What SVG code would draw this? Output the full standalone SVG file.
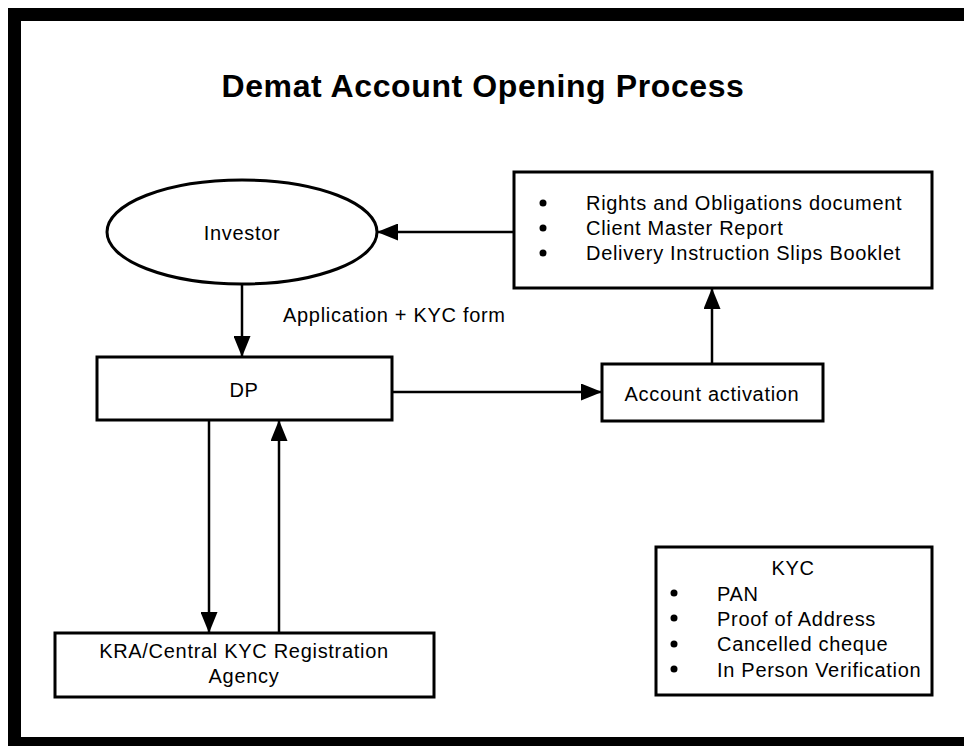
<svg xmlns="http://www.w3.org/2000/svg" width="964" height="746" viewBox="0 0 964 746">
  <style>
    .box { fill: #fff; stroke: #000; stroke-width: 3; }
    .txt { font-family: "Liberation Sans", Arial, sans-serif; font-size: 20px; letter-spacing: 0.7px; fill: #000; }
    .mid { text-anchor: middle; }
    .title { font-family: "Liberation Sans", Arial, sans-serif; font-size: 32px; font-weight: bold; letter-spacing: 0.6px; fill: #000; text-anchor: middle; }
    .edge { fill: none; stroke: #000; stroke-width: 2.5; marker-end: url(#arrow); }
    .dot { fill: #000; }
  </style>
  <defs>
    <marker id="arrow" markerUnits="userSpaceOnUse" markerWidth="21" markerHeight="17" refX="21" refY="8.5" orient="auto">
      <path d="M0,0 L21,8.5 L0,17 z" fill="#000"/>
    </marker>
  </defs>

  <!-- page background and heavy frame -->
  <rect x="0" y="0" width="964" height="746" fill="#fff"/>
  <rect x="14.5" y="14.5" width="980" height="729" fill="none" stroke="#000" stroke-width="13"/>

  <text class="title" x="483" y="97">Demat Account Opening Process</text>

  <!-- connectors -->
  <g id="connectors">
    <line class="edge" x1="514" y1="232" x2="377" y2="232"/>
    <line class="edge" x1="242" y1="284" x2="242" y2="357"/>
    <line class="edge" x1="392" y1="392" x2="602" y2="392"/>
    <line class="edge" x1="712" y1="364" x2="712" y2="288"/>
    <line class="edge" x1="209" y1="420" x2="209" y2="633"/>
    <line class="edge" x1="279" y1="633" x2="279" y2="420"/>
    <text class="txt" x="283" y="322">Application + KYC form</text>
  </g>

  <g id="investor">
    <ellipse class="box" cx="242" cy="232" rx="135" ry="52"/>
    <text class="txt mid" x="242" y="240">Investor</text>
  </g>

  <g id="documents">
    <rect class="box" x="514" y="172" width="418" height="116"/>
    <circle class="dot" cx="543" cy="203" r="3.5"/>
    <circle class="dot" cx="543" cy="228" r="3.5"/>
    <circle class="dot" cx="543" cy="253" r="3.5"/>
    <text class="txt" x="586" y="210">Rights and Obligations document</text>
    <text class="txt" x="586" y="235">Client Master Report</text>
    <text class="txt" x="586" y="260">Delivery Instruction Slips Booklet</text>
  </g>

  <g id="dp">
    <rect class="box" x="97" y="357" width="295" height="63"/>
    <text class="txt mid" x="244" y="397">DP</text>
  </g>

  <g id="activation">
    <rect class="box" x="602" y="364" width="221" height="57"/>
    <text class="txt mid" x="712" y="401">Account activation</text>
  </g>

  <g id="kra">
    <rect class="box" x="55" y="633" width="379" height="64"/>
    <text class="txt mid" x="244" y="658">KRA/Central KYC Registration</text>
    <text class="txt mid" x="244" y="683">Agency</text>
  </g>

  <g id="kyc">
    <rect class="box" x="656" y="547" width="276" height="148"/>
    <text class="txt mid" x="793" y="575">KYC</text>
    <circle class="dot" cx="674" cy="593" r="3.5"/>
    <circle class="dot" cx="674" cy="618" r="3.5"/>
    <circle class="dot" cx="674" cy="644" r="3.5"/>
    <circle class="dot" cx="674" cy="669" r="3.5"/>
    <text class="txt" x="717" y="601">PAN</text>
    <text class="txt" x="717" y="626">Proof of Address</text>
    <text class="txt" x="717" y="651">Cancelled cheque</text>
    <text class="txt" x="717" y="677">In Person Verification</text>
  </g>
</svg>
